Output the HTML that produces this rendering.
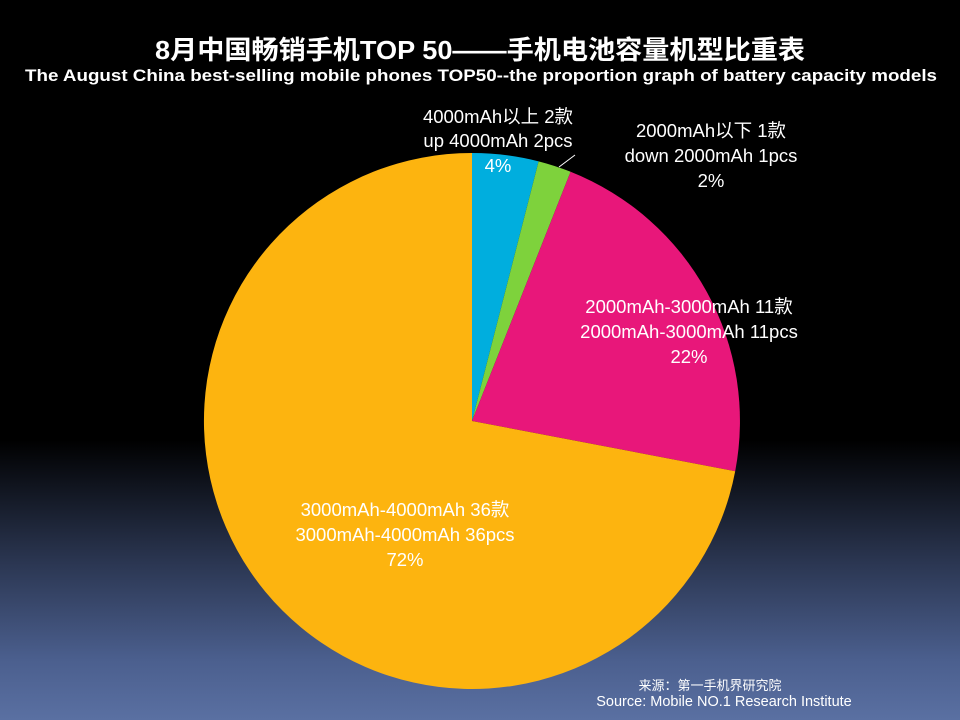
<!DOCTYPE html>
<html><head><meta charset="utf-8"><style>
body{margin:0;width:960px;height:720px;overflow:hidden;background:linear-gradient(to bottom,#000 0px,#000 440px,#2a3550 560px,#4b5f8e 660px,#5a70a2 720px);font-family:"Liberation Sans","Noto Sans CJK SC",sans-serif;}
svg{position:absolute;left:0;top:0}
</style></head><body>
<svg width="960" height="720" xmlns="http://www.w3.org/2000/svg" font-family="Liberation Sans, Noto Sans CJK SC, sans-serif">
<text x="155" y="59" fill="#fff" font-size="26" font-weight="bold" textLength="650" lengthAdjust="spacingAndGlyphs">8月中国畅销手机TOP 50——手机电池容量机型比重表</text>
<text x="25" y="81" fill="#fff" font-size="17" font-weight="bold" textLength="912" lengthAdjust="spacingAndGlyphs">The  August China best-selling mobile phones TOP50--the proportion graph of battery capacity models</text>
<path d="M472,421 L472,153 A268,268 0 0 1 538.6,161.4 Z" fill="#00aede"/>
<path d="M472,421 L538.6,161.4 A268,268 0 0 1 570.6,171.8 Z" fill="#7ed23c"/>
<path d="M472,421 L570.6,171.8 A268,268 0 0 1 735.2,471.2 Z" fill="#e8177a"/>
<path d="M472,421 L735.2,471.2 A268,268 0 1 1 472,153 Z" fill="#fdb40f"/>
<line x1="559" y1="167" x2="575" y2="155" stroke="#fff" stroke-width="1"/>
<g fill="#fff" font-size="18.5" text-anchor="middle">
<text x="498" y="123">4000mAh以上 2款</text>
<text x="498" y="147">up 4000mAh 2pcs</text>
<text x="498" y="172">4%</text>
<text x="711" y="137">2000mAh以下 1款</text>
<text x="711" y="162">down 2000mAh 1pcs</text>
<text x="711" y="187">2%</text>
<text x="689" y="313">2000mAh-3000mAh 11款</text>
<text x="689" y="338">2000mAh-3000mAh 11pcs</text>
<text x="689" y="363">22%</text>
<text x="405" y="516">3000mAh-4000mAh 36款</text>
<text x="405" y="541">3000mAh-4000mAh 36pcs</text>
<text x="405" y="566">72%</text>
</g>
<text x="710" y="690" fill="#fff" font-size="13" text-anchor="middle">来源：第一手机界研究院</text>
<text x="724" y="706" fill="#fff" font-size="14.5" text-anchor="middle">Source: Mobile NO.1 Research Institute</text>
</svg>
</body></html>
